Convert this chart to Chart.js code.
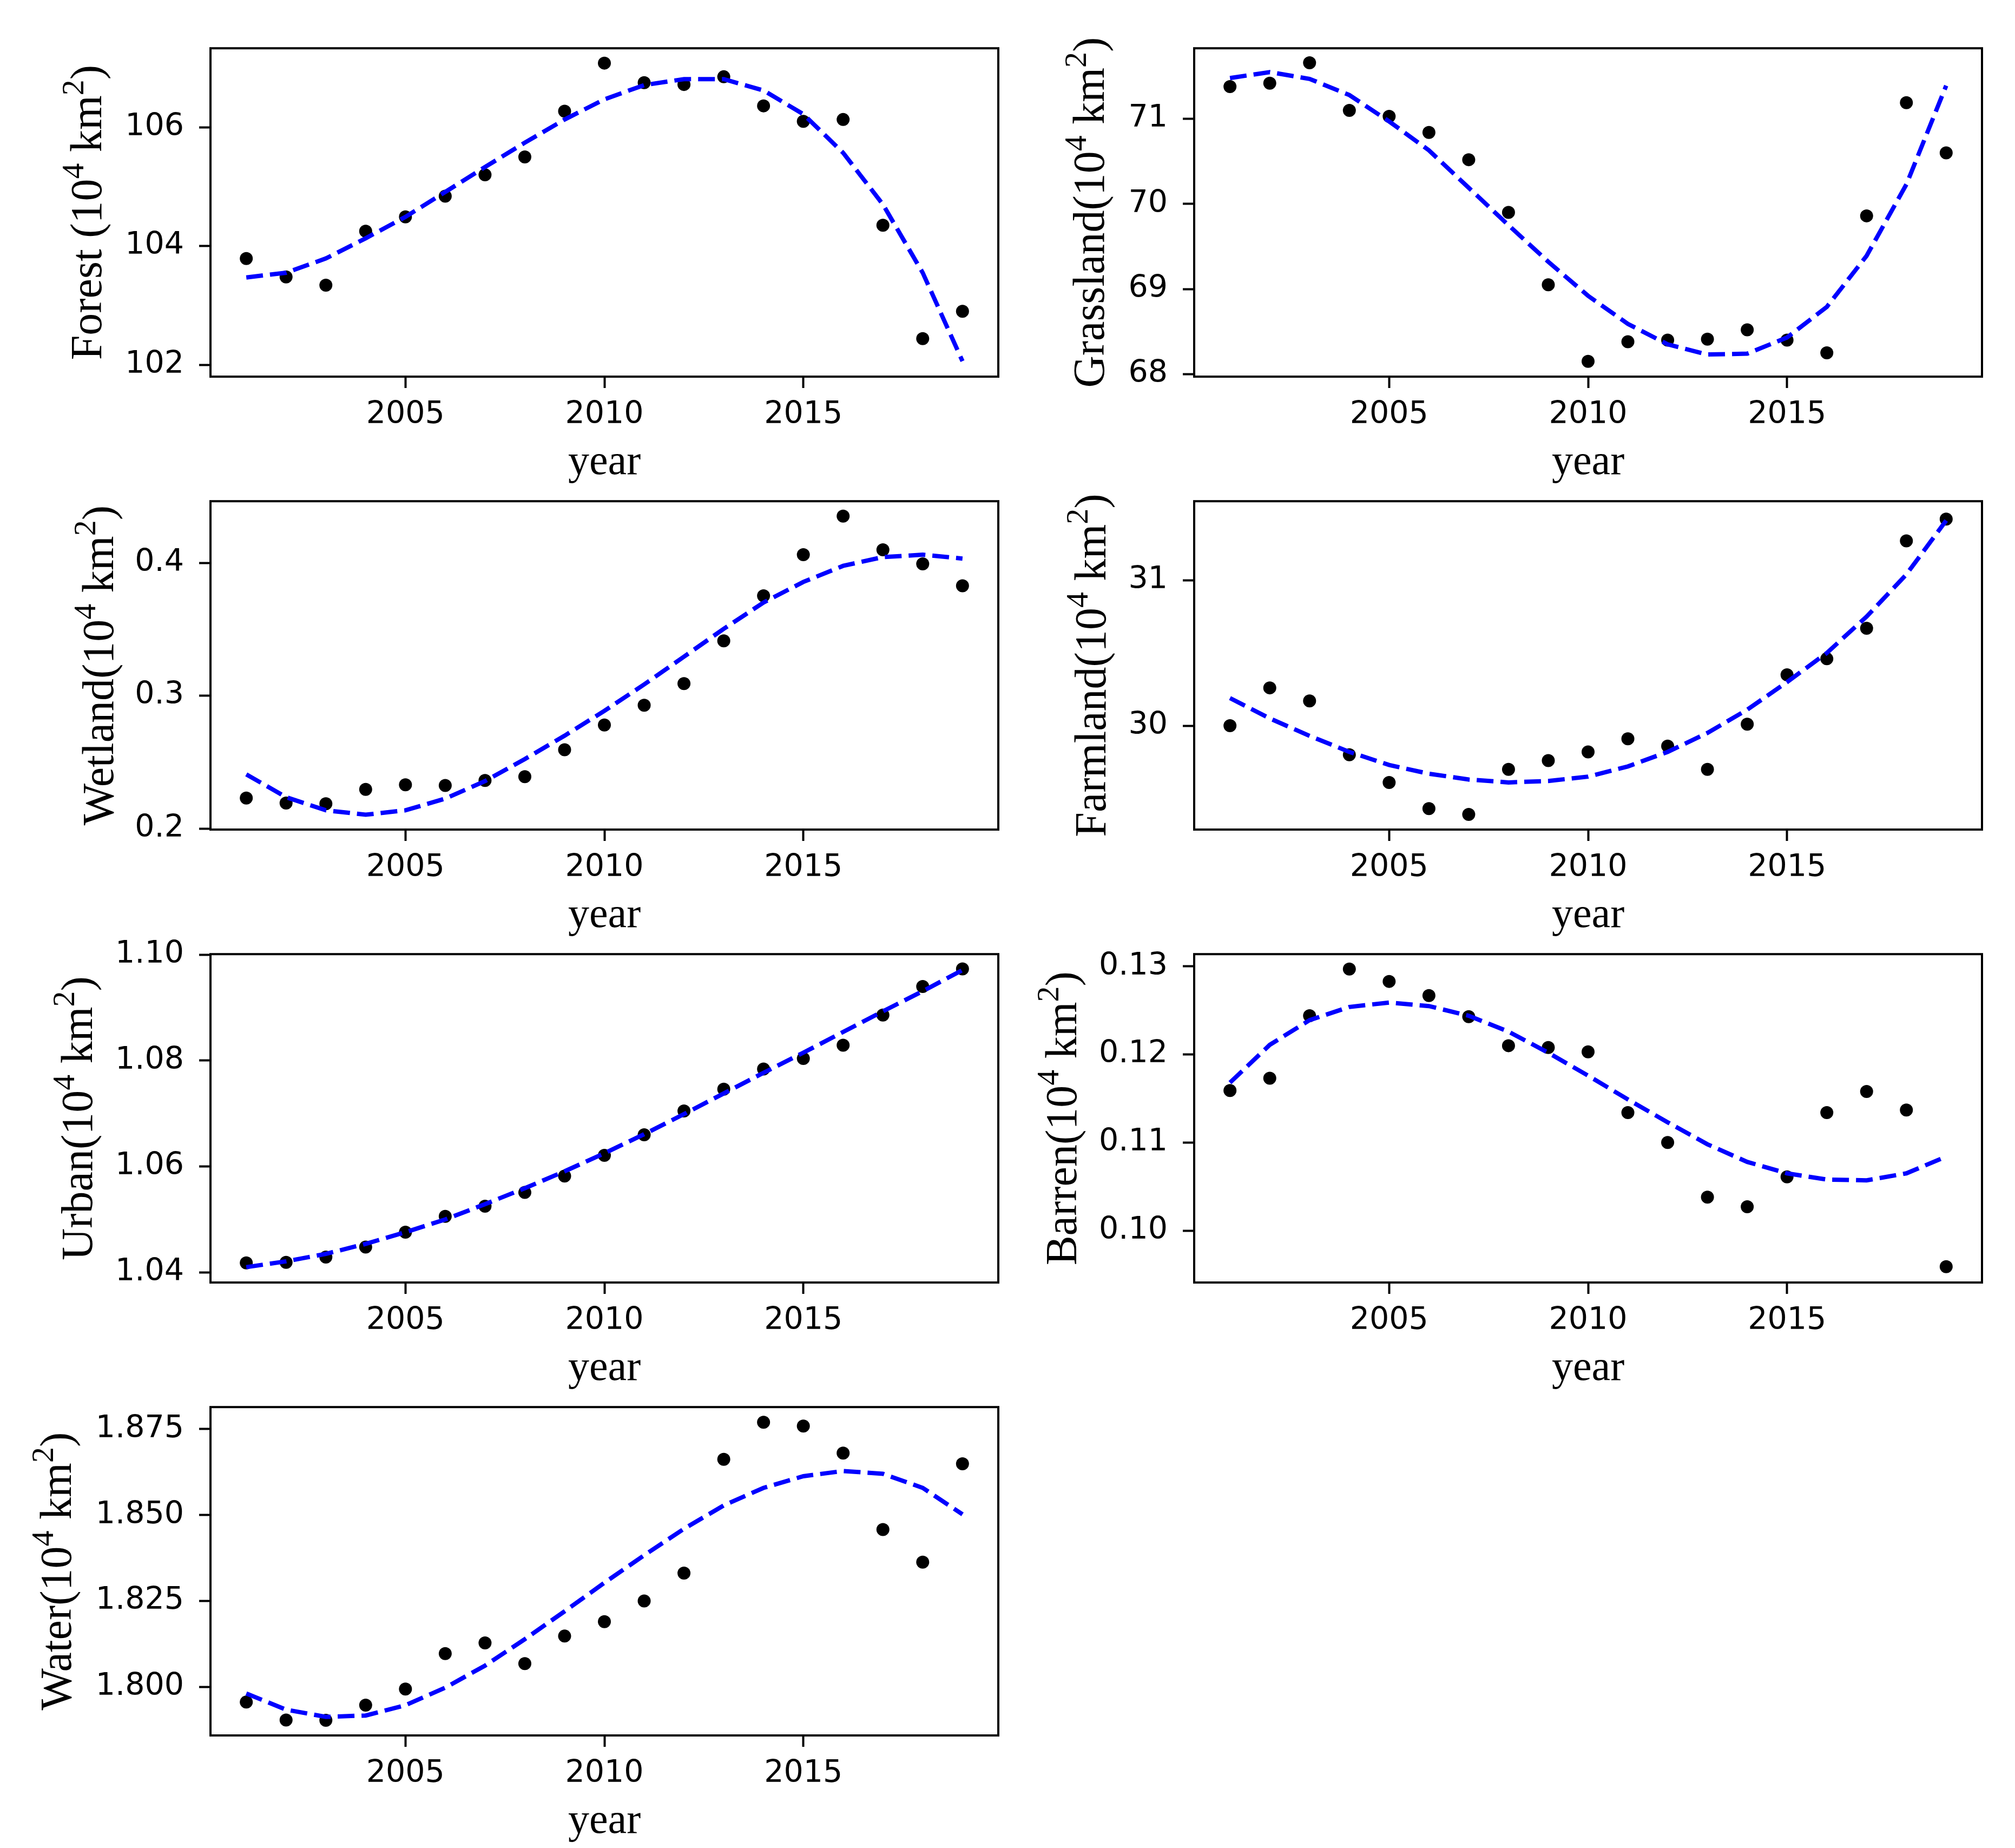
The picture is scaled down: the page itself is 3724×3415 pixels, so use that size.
<!DOCTYPE html>
<html>
<head>
<meta charset="utf-8">
<script src="https://cdn.jsdelivr.net/npm/chart.js@4.4.1/dist/chart.umd.min.js"></script>
<style>
  body { margin: 0; background: #fff; }
  #page { position: relative; width: 3724px; height: 3415px; background: #fff; overflow: hidden; }
  canvas { position: absolute; }
</style>
</head>
<body>
<div id="page"></div>
<script>
// years on the x axis
const years = [2001, 2002, 2003, 2004, 2005, 2006, 2007, 2008, 2009, 2010,
               2011, 2012, 2013, 2014, 2015, 2016, 2017, 2018, 2019];
const yearTicks = [2005, 2010, 2015];

const forest    = [103.79, 103.48, 103.34, 104.25, 104.49, 104.84, 105.20, 105.50, 106.27, 107.08,
                   106.75, 106.72, 106.85, 106.36, 106.10, 106.13, 104.35, 102.44, 102.90];
const forestFit = [103.47, 103.55, 103.79, 104.13, 104.49, 104.91, 105.33, 105.74, 106.13, 106.47,
                   106.71, 106.81, 106.81, 106.62, 106.22, 105.57, 104.70, 103.55, 102.06];
const forestTicks = [102, 104, 106];

const grass    = [71.38, 71.42, 71.66, 71.10, 71.03, 70.84, 70.52, 69.90, 69.05, 68.15,
                  68.38, 68.40, 68.41, 68.52, 68.40, 68.25, 69.86, 71.19, 70.60];
const grassFit = [71.48, 71.55, 71.47, 71.28, 70.97, 70.63, 70.19, 69.75, 69.32, 68.92,
                  68.59, 68.35, 68.23, 68.24, 68.43, 68.79, 69.39, 70.23, 71.39];
const grassTicks = [68, 69, 70, 71];

const wetland    = [0.2229, 0.2192, 0.2187, 0.2295, 0.2329, 0.2324, 0.2362, 0.2390, 0.2593, 0.2780,
                    0.2928, 0.3091, 0.3413, 0.3753, 0.4062, 0.4353, 0.4099, 0.3993, 0.3828];
const wetlandFit = [0.2408, 0.2236, 0.2137, 0.2104, 0.2137, 0.2225, 0.2357, 0.2523, 0.2699, 0.2886,
                    0.3085, 0.3294, 0.3504, 0.3702, 0.3857, 0.3978, 0.4044, 0.4062, 0.4033];
const wetlandTicks = [0.2, 0.3, 0.4];

const farm    = [30.00, 30.26, 30.17, 29.80, 29.61, 29.43, 29.39, 29.70, 29.76, 29.82,
                 29.91, 29.86, 29.70, 30.01, 30.35, 30.46, 30.67, 31.27, 31.42];
const farmFit = [30.19, 30.05, 29.93, 29.82, 29.73, 29.67, 29.63, 29.61, 29.62, 29.65,
                 29.72, 29.82, 29.95, 30.11, 30.30, 30.50, 30.75, 31.04, 31.41];
const farmTicks = [30, 31];

const urban    = [1.0418, 1.0419, 1.0429, 1.0448, 1.0476, 1.0506, 1.0525, 1.0551, 1.0582, 1.0621,
                  1.0660, 1.0705, 1.0746, 1.0784, 1.0804, 1.0829, 1.0886, 1.0940, 1.0973];
const urbanFit = [1.0410, 1.0421, 1.0435, 1.0454, 1.0476, 1.0500, 1.0529, 1.0559, 1.0591, 1.0625,
                  1.0661, 1.0699, 1.0738, 1.0777, 1.0815, 1.0854, 1.0893, 1.0931, 1.0971];
const urbanTicks = [1.04, 1.06, 1.08, 1.10];

const barren    = [0.1159, 0.1173, 0.1244, 0.1297, 0.1283, 0.1267, 0.1243, 0.1210, 0.1208, 0.1203,
                   0.1134, 0.1100, 0.1038, 0.1027, 0.1061, 0.1134, 0.1158, 0.1137, 0.0959];
const barrenFit = [0.1168, 0.1211, 0.1239, 0.1254, 0.1259, 0.1255, 0.1244, 0.1226, 0.1202, 0.1176,
                   0.1149, 0.1123, 0.1098, 0.1078, 0.1065, 0.1058, 0.1057, 0.1065, 0.1084];
const barrenTicks = [0.10, 0.11, 0.12, 0.13];

const water    = [1.7956, 1.7904, 1.7903, 1.7947, 1.7994, 1.8097, 1.8128, 1.8068, 1.8148, 1.8190,
                  1.8250, 1.8331, 1.8662, 1.8770, 1.8759, 1.8680, 1.8458, 1.8363, 1.8649];
const waterFit = [1.7981, 1.7934, 1.7913, 1.7917, 1.7947, 1.7998, 1.8062, 1.8139, 1.8220, 1.8303,
                  1.8383, 1.8460, 1.8528, 1.8579, 1.8613, 1.8628, 1.8620, 1.8579, 1.8502];
const waterTicks = [1.800, 1.825, 1.850, 1.875];

// panel setup: which arrays, axis limits, tick format, grid slot
const panels = [
  { name: 'Forest (',   values: forest,  fit: forestFit,  ticks: forestTicks,  digits: 0, yMin: 101.80, yMax: 107.33, col: 0, row: 0, labelOffset: -227 },
  { name: 'Grassland(', values: grass,   fit: grassFit,   ticks: grassTicks,   digits: 0, yMin: 67.97,  yMax: 71.83,  col: 1, row: 0, labelOffset: -192 },
  { name: 'Wetland(',   values: wetland, fit: wetlandFit, ticks: wetlandTicks, digits: 1, yMin: 0.1992, yMax: 0.4465, col: 0, row: 1, labelOffset: -205 },
  { name: 'Farmland(',  values: farm,    fit: farmFit,    ticks: farmTicks,    digits: 0, yMin: 29.286, yMax: 31.543, col: 1, row: 1, labelOffset: -189 },
  { name: 'Urban(',     values: urban,   fit: urbanFit,   ticks: urbanTicks,   digits: 2, yMin: 1.0381, yMax: 1.1001, col: 0, row: 2, labelOffset: -244 },
  { name: 'Barren(',    values: barren,  fit: barrenFit,  ticks: barrenTicks,  digits: 2, yMin: 0.0941, yMax: 0.1314, col: 1, row: 2, labelOffset: -243 },
  { name: 'Water(',     values: water,   fit: waterFit,   ticks: waterTicks,   digits: 3, yMin: 1.7859, yMax: 1.8814, col: 0, row: 3, labelOffset: -283 }
];

const COL_LEFT = [389, 2207];
const ROW_TOP = [87, 924, 1761, 2598];
const AXES_W = 1456, AXES_H = 609;
const PAD_L = 360, PAD_T = 60, PAD_R = 30, PAD_B = 240;

const SERIF = '"Liberation Serif", "Times New Roman", serif';
const SANS = '"DejaVu Sans", sans-serif';

// y label with mathtext-like superscripts: name + 10^4 km^2 + ")"
function drawYLabel(ctx, name, cx, cy) {
  const big = 82, small = 58, rise = 0.40 * big;
  const parts = [
    { t: name, s: big, up: 0 },
    { t: '10', s: big, up: 0 },
    { t: '4', s: small, up: rise },
    { t: ' km', s: big, up: 0 },
    { t: '2', s: small, up: rise },
    { t: ')', s: big, up: 0 }
  ];
  let total = 0;
  parts.forEach((p) => {
    ctx.font = p.s + 'px ' + SERIF;
    p.w = ctx.measureText(p.t).width;
    total += p.w;
  });
  ctx.save();
  ctx.translate(cx, cy);
  ctx.rotate(-Math.PI / 2);
  ctx.fillStyle = '#000';
  ctx.textBaseline = 'alphabetic';
  ctx.textAlign = 'left';
  let x = -total / 2;
  const base = 0.30 * big;
  parts.forEach((p) => {
    ctx.font = p.s + 'px ' + SERIF;
    ctx.fillText(p.t, x, base - p.up);
    x += p.w;
  });
  ctx.restore();
}

// axes frame on all four sides plus the axis labels
const frameAndLabels = {
  id: 'frameAndLabels',
  afterDatasetsDraw(chart, args, opts) {
    const { ctx, chartArea: a } = chart;
    ctx.save();
    ctx.strokeStyle = '#000';
    ctx.lineWidth = 4;
    ctx.strokeRect(a.left, a.top, a.right - a.left, a.bottom - a.top);
    ctx.fillStyle = '#000';
    ctx.font = '78px ' + SERIF;
    ctx.textAlign = 'center';
    ctx.textBaseline = 'alphabetic';
    ctx.fillText('year', (a.left + a.right) / 2, a.bottom + 180);
    ctx.restore();
    drawYLabel(ctx, opts.name, a.left + opts.labelOffset, (a.top + a.bottom) / 2);
  }
};

const page = document.getElementById('page');

panels.forEach((p) => {
  const canvas = document.createElement('canvas');
  const w = AXES_W + PAD_L + PAD_R;
  const h = AXES_H + PAD_T + PAD_B;
  canvas.width = w;
  canvas.height = h;
  canvas.style.width = w + 'px';
  canvas.style.height = h + 'px';
  canvas.style.left = (COL_LEFT[p.col] - PAD_L) + 'px';
  canvas.style.top = (ROW_TOP[p.row] - PAD_T) + 'px';
  page.appendChild(canvas);

  new Chart(canvas.getContext('2d'), {
    type: 'line',
    data: {
      datasets: [
        {
          label: 'fit',
          data: years.map((yr, i) => ({ x: yr, y: p.fit[i] })),
          borderColor: '#0000ff',
          borderWidth: 8,
          borderDash: [31, 13],
          borderCapStyle: 'butt',
          pointRadius: 0,
          fill: false,
          tension: 0
        },
        {
          label: 'data',
          data: years.map((yr, i) => ({ x: yr, y: p.values[i] })),
          showLine: false,
          pointRadius: 12,
          pointBackgroundColor: '#000',
          pointBorderWidth: 0,
          pointBorderColor: '#000'
        }
      ]
    },
    options: {
      responsive: false,
      animation: false,
      devicePixelRatio: 1,
      events: [],
      layout: { padding: { left: 0, top: PAD_T, right: PAD_R, bottom: 0 } },
      plugins: {
        legend: { display: false },
        tooltip: { enabled: false },
        frameAndLabels: { name: p.name, labelOffset: p.labelOffset }
      },
      scales: {
        x: {
          type: 'linear',
          min: 2000.1,
          max: 2019.9,
          afterFit: (s) => { s.height = PAD_B; },
          afterBuildTicks: (s) => { s.ticks = yearTicks.map((v) => ({ value: v })); },
          border: { display: false },
          grid: { drawOnChartArea: false, drawTicks: true, tickLength: 21, tickWidth: 4, tickColor: '#000' },
          ticks: {
            autoSkip: false,
            maxRotation: 0,
            padding: 16,
            color: '#000',
            font: { family: SANS, size: 57 },
            callback: (v) => String(v)
          }
        },
        y: {
          type: 'linear',
          min: p.yMin,
          max: p.yMax,
          afterFit: (s) => { s.width = PAD_L; },
          afterBuildTicks: (s) => { s.ticks = p.ticks.map((v) => ({ value: v })); },
          border: { display: false },
          grid: { drawOnChartArea: false, drawTicks: true, tickLength: 21, tickWidth: 4, tickColor: '#000' },
          ticks: {
            autoSkip: false,
            padding: 28,
            color: '#000',
            font: { family: SANS, size: 57 },
            callback: (v) => Number(v).toFixed(p.digits)
          }
        }
      }
    },
    plugins: [frameAndLabels]
  });
});
</script>
</body>
</html>
